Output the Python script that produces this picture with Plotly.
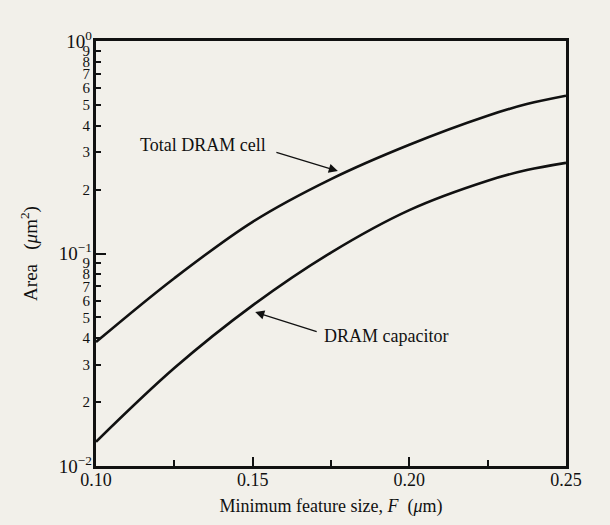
import numpy as np
import plotly.graph_objects as go

# Minimum feature size F (um)
feature_size = [0.100, 0.125, 0.150, 0.175, 0.200, 0.225, 0.2375, 0.250]
# Area (um^2)
total_cell_area = [0.0383, 0.0765, 0.141, 0.224, 0.325, 0.445, 0.505, 0.553]
capacitor_area = [0.0130, 0.0289, 0.057, 0.101, 0.160, 0.220, 0.247, 0.267]

x_tick_vals = [0.10, 0.15, 0.20, 0.25]
x_tick_text = ["0.10", "0.15", "0.20", "0.25"]
x_minor_vals = [0.125, 0.175, 0.225]
decades = [0.01, 0.1, 1.0]
decade_text = ["10<sup>\u22122</sup>", "10<sup>\u22121</sup>", "10<sup>0</sup>"]
digits = [2, 3, 4, 5, 6, 7, 8, 9]

BG = "#f2f0ea"
INK = "#111111"
FONT = "Liberation Serif"

digit_vals = [d * base for base in (0.01, 0.1) for d in digits]
digit_text = [str(d) for _ in (0.01, 0.1) for d in digits]

fig = go.Figure()
line_style = dict(color=INK, width=2.6, shape="spline", smoothing=1.0)
fig.add_trace(go.Scatter(x=feature_size, y=total_cell_area, mode="lines",
                         line=line_style, name="Total DRAM cell", showlegend=False))
fig.add_trace(go.Scatter(x=feature_size, y=capacitor_area, mode="lines",
                         line=line_style, name="DRAM capacitor", showlegend=False,
                         yaxis="y2"))

fig.update_layout(
    width=610, height=525,
    margin=dict(l=96, r=44, t=41, b=59),
    paper_bgcolor=BG, plot_bgcolor=BG,
    font=dict(family=FONT, color=INK, size=18),
    xaxis=dict(
        range=[0.10, 0.25], tickmode="array", tickvals=x_tick_vals, ticktext=x_tick_text,
        ticks="inside", ticklen=9, tickwidth=2, tickcolor=INK,
        minor=dict(tickmode="array", tickvals=x_minor_vals, ticks="inside",
                   ticklen=6, tickwidth=2, tickcolor=INK),
        showline=True, linewidth=2.8, linecolor=INK, mirror=True,
        showgrid=False, zeroline=False, ticklabelstandoff=-5,
        tickfont=dict(family=FONT, size=18, color=INK),
        title=dict(text="Minimum feature size, <i>F</i>\u00a0\u00a0(<i>\u03bc</i>m)",
                   font=dict(family=FONT, size=18, color=INK), standoff=11),
    ),
    yaxis=dict(
        type="log", range=[-2, 0], tickmode="array", tickvals=digit_vals, ticktext=digit_text,
        ticks="inside", ticklen=5, tickwidth=2, tickcolor=INK,
        showline=True, linewidth=2.8, linecolor=INK, mirror=True,
        showgrid=False, zeroline=False,
        tickfont=dict(family=FONT, size=15, color=INK),
        title=dict(text="Area\u00a0\u00a0\u00a0(<i>\u03bc</i>m<sup>2</sup>)",
                   font=dict(family=FONT, size=19, color=INK), standoff=40),
    ),
    yaxis2=dict(
        type="log", range=[-2, 0], overlaying="y", side="left", matches="y",
        tickmode="array", tickvals=decades, ticktext=decade_text,
        ticks="inside", ticklen=10, tickwidth=2, tickcolor=INK,
        showline=False, showgrid=False, zeroline=False, ticklabelstandoff=3,
        tickfont=dict(family=FONT, size=19, color=INK),
    ),
)

# Curve labels with pointer arrows
label_font = dict(family=FONT, size=18, color=INK)
fig.add_annotation(text="Total DRAM cell", xref="x", yref="y",
                   x=0.1549, y=np.log10(0.3245), xanchor="right", yanchor="middle",
                   showarrow=False, font=label_font)
fig.add_annotation(text="", xref="x", yref="y", x=0.1772, y=np.log10(0.2444),
                   showarrow=True, ax=-63, ay=-19, arrowhead=2, arrowsize=1.4,
                   arrowwidth=1.3, arrowcolor=INK, standoff=0)
fig.add_annotation(text="DRAM capacitor", xref="x", yref="y",
                   x=0.1721, y=np.log10(0.0409), xanchor="left", yanchor="middle",
                   showarrow=False, font=label_font)
fig.add_annotation(text="", xref="x", yref="y", x=0.1508, y=np.log10(0.0530),
                   showarrow=True, ax=63, ay=20, arrowhead=2, arrowsize=1.4,
                   arrowwidth=1.3, arrowcolor=INK, standoff=0)

fig.write_html("out.html")
